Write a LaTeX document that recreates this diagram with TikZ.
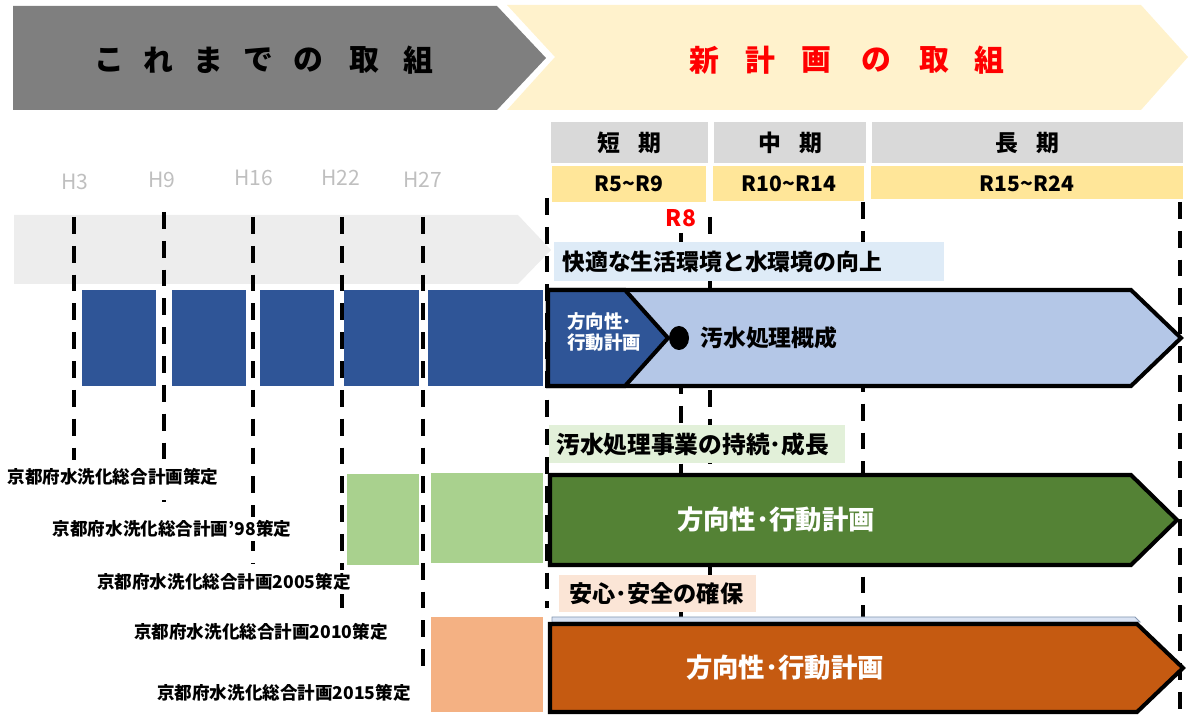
\documentclass[tikz,border=0pt]{standalone}
\usepackage{fontspec}
\setmainfont{Noto Sans CJK JP}
\definecolor{titlegrey}{HTML}{7F7F7F}
\definecolor{cream}{HTML}{FFF2CC}
\definecolor{bandgrey}{HTML}{EDEDED}
\definecolor{hdrgrey}{HTML}{D9D9D9}
\definecolor{hdryel}{HTML}{FFE699}
\definecolor{hlabel}{HTML}{BFBFBF}
\definecolor{boxblue}{HTML}{DEEBF7}
\definecolor{arrblue}{HTML}{B4C7E7}
\definecolor{darkblue}{HTML}{2F5597}
\definecolor{boxgreen}{HTML}{E2F0D9}
\definecolor{arrgreen}{HTML}{548235}
\definecolor{sqgreen}{HTML}{A9D18E}
\definecolor{boxpeach}{HTML}{FBE5D6}
\definecolor{arrorange}{HTML}{C55A11}
\definecolor{sqorange}{HTML}{F4B183}
\definecolor{stripfill}{HTML}{DAE3F3}
\definecolor{stripline}{HTML}{8497B0}
\definecolor{redtxt}{HTML}{FF0000}
\begin{document}
\begin{tikzpicture}[x=0.02cm,y=-0.02cm,
  ttl/.style={font=\bfseries\fontsize{17}{20}\selectfont, inner sep=0pt},
  hdr/.style={font=\bfseries\fontsize{13}{15}\selectfont, inner sep=0pt},
  yr/.style={font=\bfseries\fontsize{12}{14}\selectfont, inner sep=0pt},
  hyr/.style={font=\fontsize{12}{14}\selectfont, text=hlabel, inner sep=0pt},
  vline/.style={line width=2pt, dash pattern=on 9.6pt off 6.8pt},
  goal/.style={font=\bfseries\fontsize{13}{15}\selectfont, inner sep=0pt, anchor=west},
  plan/.style={font=\bfseries\fontsize{10}{12}\selectfont, fill=white, inner sep=2pt},
  big/.style={line width=2.3pt, draw=black},
  wtxt/.style={font=\bfseries\fontsize{15}{17}\selectfont, text=white, inner sep=0pt}]
\useasboundingbox (0,0) rectangle (1190,715);

% title arrows
\fill[titlegrey] (13,6) -- (497,6) -- (546,58) -- (497,110) -- (13,110) -- cycle;
\fill[cream] (507,5) -- (1141,5) -- (1188,57) -- (1141,110) -- (507,110) -- (555,57) -- cycle;
\foreach \c/\x in {こ/109,れ/158,ま/208,で/258,の/308,取/364,組/418}
  \node[ttl] (ta\x) at (\x,60) {\c};
\foreach \c/\x in {新/704,計/760,画/816,の/876,取/934,組/989}
  \node[ttl, text=redtxt] (tb\x) at (\x,60) {\c};

% background band
\fill[bandgrey] (14,215) -- (518,215) -- (551,250) -- (518,284) -- (14,284) -- cycle;

% period headers
\fill[hdrgrey] (551,122) rectangle (708,163);
\fill[hdrgrey] (714,122) rectangle (866,163);
\fill[hdrgrey] (872,122) rectangle (1183,163);
\fill[hdryel] (552,166) rectangle (706,202);
\fill[hdryel] (713,166) rectangle (864,201);
\fill[hdryel] (871,166) rectangle (1183,199);
\node[hdr] (short) at (629,143) {短\hspace{0.8em}期};
\node[hdr] (mid) at (790,143) {中\hspace{0.8em}期};
\node[hdr] (long) at (1027,143) {長\hspace{0.8em}期};
\node[yr] (r1) at (629,184) {R5\char"7E R9};
\node[yr] (r2) at (789,184) {R10\char"7E R14};
\node[yr] (r3) at (1027,184) {R15\char"7E R24};

% year labels
\node[hyr] (h3) at (75,182) {H3};
\node[hyr] (h9) at (162,180) {H9};
\node[hyr] (h16) at (254,178) {H16};
\node[hyr] (h22) at (341,178) {H22};
\node[hyr] (h27) at (423,180) {H27};
\node[yr, text=redtxt, font=\bfseries\fontsize{13}{15}\selectfont] (r8) at (681,218) {R8};

% dashed lines
\coordinate (a1) at (74,217);  \coordinate (b1) at (74,460);
\coordinate (a2) at (164,212); \coordinate (b2) at (164,502);
\coordinate (a3) at (253,217); \coordinate (b3) at (253,563);
\coordinate (a4) at (342,217); \coordinate (b4) at (342,612);
\coordinate (a5) at (423,217); \coordinate (b5) at (423,667);
\coordinate (a6) at (547,198); \coordinate (b6) at (547,608);
\coordinate (a7) at (681,233); \coordinate (b7) at (681,622);
\coordinate (a8) at (710,217); \coordinate (b8) at (710,627);
\coordinate (a9) at (863,202); \coordinate (b9) at (863,623);
\coordinate (a10) at (1180,202); \coordinate (b10) at (1180,712);
\foreach \i in {1,...,10} \draw[vline] (a\i) -- (b\i);

% past blocks
\fill[darkblue] (82,290) rectangle (156,386);
\fill[darkblue] (172,290) rectangle (246,386);
\fill[darkblue] (260,290) rectangle (334,386);
\fill[darkblue] (344,290) rectangle (419,386);
\fill[darkblue] (428,290) rectangle (543,386);
\fill[sqgreen] (347,474) rectangle (419,565);
\fill[sqgreen] (431,473) rectangle (543,563);
\fill[sqorange] (431,617) rectangle (543,712);

% goal boxes
\fill[boxblue] (554,242) rectangle (944,281);
\node[goal] (g1) at (562,262) {快適な生活環境と水環境の向上};
\fill[boxgreen] (549,425) rectangle (845,463);
\node[goal, font=\bfseries\fontsize{13.5}{15}\selectfont] (g2) at (556,444) {汚水処理事業の持続･成長};
\fill[boxpeach] (559,575) rectangle (756,612);
\node[goal, font=\bfseries\fontsize{13.2}{15}\selectfont] (g3) at (569,594) {安心･安全の確保};

% blue arrow
\draw[big, fill=arrblue] (548,290) -- (1131,290) -- (1181,338) -- (1131,386) -- (548,386) -- cycle;
\draw[big, fill=darkblue, line join=miter] (548,290) -- (625,290) -- (668,338) -- (625,386) -- (548,386) -- cycle;
\node[font=\bfseries\fontsize{10.5}{12}\selectfont, text=white, align=left, anchor=west, inner sep=0pt] (dir) at (567,332) {方向性･\\行動計画};
\fill[black] (679,338) ellipse [x radius=10, y radius=12];
\coordinate (dot) at (679,338);
\node[font=\bfseries\fontsize{13}{15}\selectfont, anchor=west, inner sep=0pt] (gaisei) at (700,338) {汚水処理概成};

% green arrow
\draw[big, fill=arrgreen] (550,475) -- (1131,475) -- (1177,520) -- (1131,565) -- (550,565) -- cycle;
\node[wtxt] (gtxt) at (776,520) {方向性･行動計画};

% orange arrow
\filldraw[fill=stripfill, draw=stripline, line width=0.5pt] (552,617) -- (1135,617) -- (1140,622) -- (552,622) -- cycle;
\draw[big, fill=arrorange] (550,624) -- (1137,624) -- (1183,668) -- (1137,712) -- (550,712) -- cycle;
\node[wtxt] (otxt) at (785,668) {方向性･行動計画};

% plan labels
\node[plan] (p1) at (113,477) {京都府水洗化総合計画策定};
\node[plan] (p2) at (172,529) {京都府水洗化総合計画’98策定};
\node[plan] (p3) at (224,582) {京都府水洗化総合計画2005策定};
\node[plan] (p4) at (261,632) {京都府水洗化総合計画2010策定};
\node[plan] (p5) at (284,693) {京都府水洗化総合計画2015策定};
\end{tikzpicture}
\end{document}
